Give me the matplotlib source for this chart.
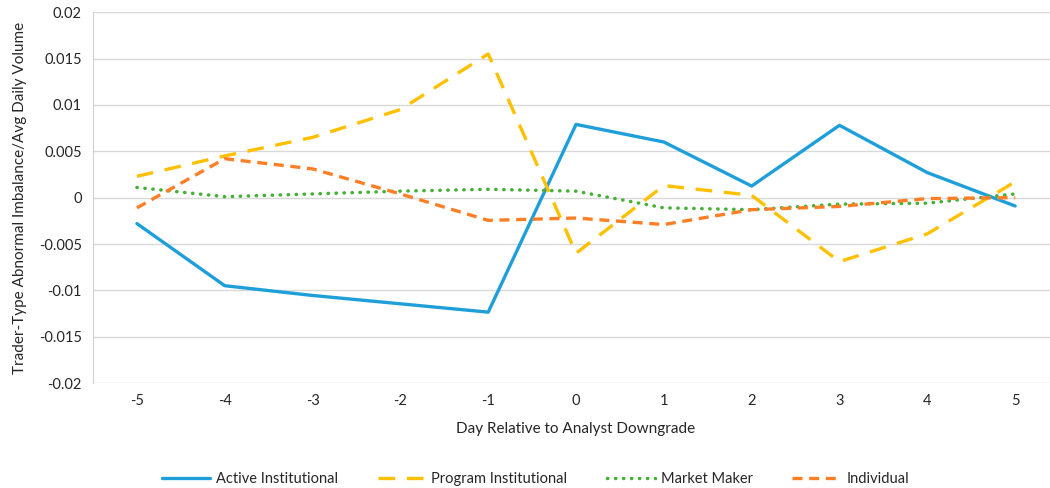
import matplotlib.pyplot as plt
from matplotlib.ticker import FuncFormatter

days = [-5, -4, -3, -2, -1, 0, 1, 2, 3, 4, 5]
active_inst = [-0.0028, -0.0095, -0.01055, -0.01145, -0.01235, 0.0079, 0.0060, 0.00125, 0.0078, 0.0027, -0.0009]
program_inst = [0.0023, 0.0045, 0.0065, 0.0095, 0.0155, -0.0060, 0.0013, 0.00025, -0.0069, -0.0039, 0.0017]
market_maker = [0.0011, 0.0001, 0.0004, 0.0007, 0.0009, 0.0007, -0.0011, -0.0013, -0.0007, -0.0006, 0.0004]
individual = [-0.0011, 0.0042, 0.0031, 0.0004, -0.00245, -0.0022, -0.0029, -0.0013, -0.00095, -0.0001, 0.0]

plt.rcParams['font.family'] = ['Lato', 'DejaVu Sans']

fig = plt.figure(figsize=(10.5, 4.88), dpi=100)
ax = fig.add_axes([0.0886, 0.215, 0.92, 0.76])

x = list(range(len(days)))
ax.plot(x, active_inst, color='#1F9FD9', lw=2.4, label='Active Institutional', solid_capstyle='round')
ax.plot(x, program_inst, color='#FFC000', lw=2.4, dashes=(5, 3.5), label='Program Institutional')
ax.plot(x, market_maker, color='#44B035', lw=2.5, dashes=(0.1, 2.2), dash_capstyle='round', label='Market Maker')
ax.plot(x, individual, color='#FF7F27', lw=2.4, dashes=(3, 2), label='Individual')

ax.set_xlim(-0.5, len(days) - 0.5)
ax.set_ylim(-0.02, 0.02)
ax.set_xticks(x)
ax.set_xticklabels([str(d) for d in days])
ax.set_yticks([0.02, 0.015, 0.01, 0.005, 0, -0.005, -0.01, -0.015, -0.02])
ax.yaxis.set_major_formatter(FuncFormatter(lambda v, p: '0' if abs(v) < 1e-12 else f'{v:g}'))
ax.tick_params(length=0, labelsize=10.5, colors='#262626', pad=8)
ax.grid(axis='y', color='#D9D9D9', lw=1)
ax.set_axisbelow(True)
for s in ['top', 'right', 'bottom']:
    ax.spines[s].set_visible(False)
ax.spines['left'].set_color('#D0D0D0')

ax.set_xlabel('Day Relative to Analyst Downgrade', fontsize=11, color='#262626', labelpad=10)
ax.set_ylabel('Trader-Type Abnormal Imbalance/Avg Daily Volume', fontsize=11, color='#262626')
ax.yaxis.set_label_coords(-0.068, 0.5)

fig.legend(loc='lower center', bbox_to_anchor=(0.51, -0.022), ncol=4, frameon=False,
           fontsize=10.5, handlelength=3.3, handletextpad=0.4, columnspacing=2.7, labelcolor='#262626')

fig.savefig('out.png', dpi=100)
